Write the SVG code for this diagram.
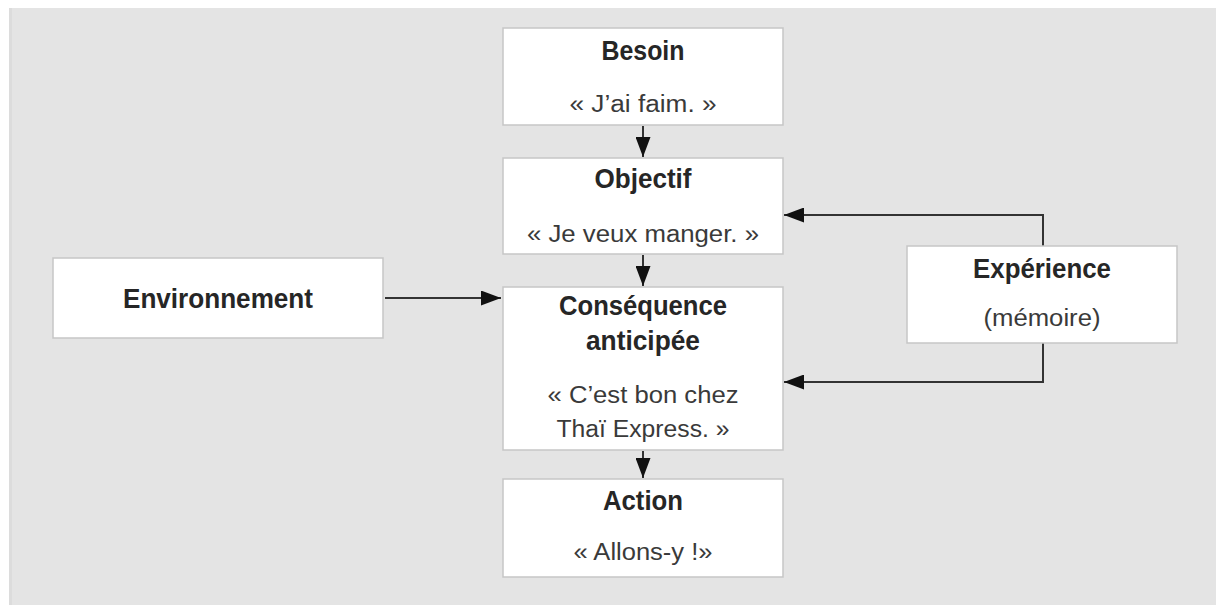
<svg xmlns="http://www.w3.org/2000/svg" width="1216" height="610" viewBox="0 0 1216 610">
<style>
.box{fill:#ffffff;stroke:#c6c6c6;stroke-width:1.5}
.t{font-family:"Liberation Sans",Arial,sans-serif;font-weight:bold;font-size:28px;fill:#262626;text-anchor:middle}
.s{font-family:"Liberation Sans",Arial,sans-serif;font-size:23.5px;fill:#3a3a3a;text-anchor:middle}
.c{fill:none;stroke:#333333;stroke-width:2}
</style>
<defs>
<marker id="ah" markerUnits="userSpaceOnUse" markerWidth="22" markerHeight="15" refX="20" refY="7.5" orient="auto">
<path d="M0,0 L20,7.5 L0,15 z" fill="#111111"/>
</marker>
</defs>
<rect x="0" y="0" width="1216" height="610" fill="#ffffff"/>
<rect x="9" y="8" width="1207" height="597" fill="#e4e4e4"/>
<rect x="9" y="8" width="3" height="597" fill="#dcdcdc"/>
<g id="connectors">
<line class="c" x1="643" y1="126" x2="643" y2="157" marker-end="url(#ah)"/>
<line class="c" x1="643" y1="255" x2="643" y2="286" marker-end="url(#ah)"/>
<line class="c" x1="643" y1="451" x2="643" y2="478" marker-end="url(#ah)"/>
<line class="c" x1="385" y1="298" x2="501" y2="298" marker-end="url(#ah)"/>
<polyline class="c" points="1043,246 1043,215 784,215" marker-end="url(#ah)"/>
<polyline class="c" points="1043,343 1043,382 784,382" marker-end="url(#ah)"/>
</g>
<g id="besoin">
<rect class="box" x="503" y="28" width="280" height="97"/>
<text class="t" x="643" y="60" textLength="83" lengthAdjust="spacingAndGlyphs">Besoin</text>
<text class="s" x="643" y="112" textLength="147" lengthAdjust="spacingAndGlyphs">« J’ai faim. »</text>
</g>
<g id="objectif">
<rect class="box" x="503" y="158" width="280" height="96"/>
<text class="t" x="643" y="188" textLength="97" lengthAdjust="spacingAndGlyphs">Objectif</text>
<text class="s" x="643" y="242" textLength="232" lengthAdjust="spacingAndGlyphs">« Je veux manger. »</text>
</g>
<g id="consequence">
<rect class="box" x="503" y="287" width="280" height="163"/>
<text class="t" x="643" y="315" textLength="168" lengthAdjust="spacingAndGlyphs">Conséquence</text>
<text class="t" x="643" y="350" textLength="114" lengthAdjust="spacingAndGlyphs">anticipée</text>
<text class="s" x="643" y="403" textLength="191" lengthAdjust="spacingAndGlyphs">« C’est bon chez</text>
<text class="s" x="643" y="437" textLength="173" lengthAdjust="spacingAndGlyphs">Thaï Express. »</text>
</g>
<g id="action">
<rect class="box" x="503" y="479" width="280" height="98"/>
<text class="t" x="643" y="510" textLength="80" lengthAdjust="spacingAndGlyphs">Action</text>
<text class="s" x="643" y="560" textLength="139" lengthAdjust="spacingAndGlyphs">« Allons-y !»</text>
</g>
<g id="environnement">
<rect class="box" x="53" y="258" width="330" height="80"/>
<text class="t" x="218" y="308" textLength="190" lengthAdjust="spacingAndGlyphs">Environnement</text>
</g>
<g id="experience">
<rect class="box" x="907" y="246" width="270" height="97"/>
<text class="t" x="1042" y="278" textLength="138" lengthAdjust="spacingAndGlyphs">Expérience</text>
<text class="s" x="1042" y="326" textLength="117" lengthAdjust="spacingAndGlyphs">(mémoire)</text>
</g>
</svg>
